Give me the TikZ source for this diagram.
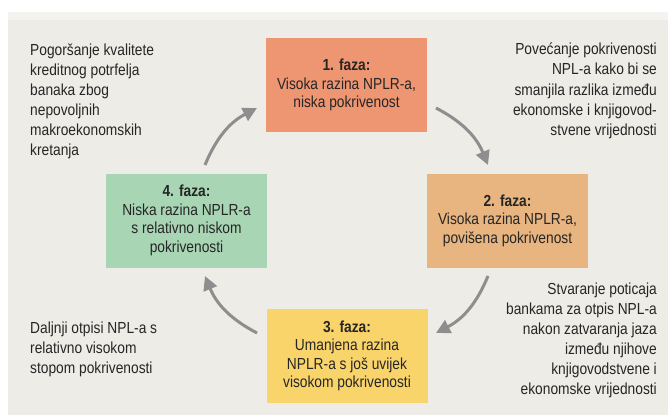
\documentclass[tikz,border=0pt]{standalone}
\usepackage{fontspec}
\setmainfont{Liberation Sans}[FakeStretch=0.86]
\usetikzlibrary{arrows.meta}
\definecolor{panelbg}{HTML}{EEECE6}
\definecolor{striplight}{HTML}{F4F3F0}
\definecolor{cone}{HTML}{EE9572}
\definecolor{ctwo}{HTML}{E8B47F}
\definecolor{cthree}{HTML}{F9D46B}
\definecolor{cfour}{HTML}{A8D5B4}
\definecolor{arrowgray}{HTML}{8E8E8E}
\definecolor{txt}{HTML}{262626}
\begin{document}
\begin{tikzpicture}[x=1pt,y=-1pt,
  phase/.style={minimum width=161pt, minimum height=94pt, align=center, inner sep=0pt,
    font=\fontsize{16}{18.5}\selectfont, text=txt},
  note/.style={inner sep=0pt, font=\fontsize{16}{20}\selectfont, text=txt},
  cyc/.style={draw=arrowgray, line width=3pt, -{Triangle[length=14pt,width=14pt]}, bend left=20}]
\useasboundingbox (0,0) rectangle (668,417);
\fill[white] (0,0) rectangle (668,417);
\fill[striplight] (8,12) rectangle (668,20);
\fill[panelbg] (8,20) rectangle (668,415);

\node[phase, fill=cone] (p1) at (346.5,85) {\textbf{1. faza:}\\Visoka razina NPLR-a,\\niska pokrivenost};
\node[phase, fill=ctwo] (p2) at (507.5,220.5) {\textbf{2. faza:}\\Visoka razina NPLR-a,\\povišena pokrivenost};
\node[phase, fill=cthree] (p3) at (347,356) {\textbf{3. faza:}\\Umanjena razina\\NPLR-a s još uvijek\\visokom pokrivenosti};
\node[phase, fill=cfour] (p4) at (186.5,220.5) {\textbf{4. faza:}\\Niska razina NPLR-a\\s relativno niskom\\pokrivenosti};

\node[note, anchor=base west, align=left] (tl) at (30,155) {Pogoršanje kvalitete\\kreditnog potrfelja\\banaka zbog\\nepovoljnih\\makroekonomskih\\kretanja};
\node[note, anchor=base east, align=right] (tr) at (657,135) {Povećanje pokrivenosti\\NPL-a kako bi se\\smanjila razlika između\\ekonomske i knjigovod-\\stvene vrijednosti};
\node[note, anchor=base west, align=left] (bl) at (30,373) {Daljnji otpisi NPL-a s\\relativno visokom\\stopom pokrivenosti};
\node[note, anchor=base east, align=right] (br) at (657,394) {Stvaranje poticaja\\bankama za otpis NPL-a\\nakon zatvaranja jaza\\između njihove\\knjigovodstvene i\\ekonomske vrijednosti};

\coordinate (a41s) at (205,165);
\coordinate (a41e) at (257,108);
\coordinate (a12s) at (436,108);
\coordinate (a12e) at (488,165);
\coordinate (a23s) at (488,276);
\coordinate (a23e) at (436,333);
\coordinate (a34s) at (257,333);
\coordinate (a34e) at (205,276);

\draw[cyc] (a41s) to (a41e);
\draw[cyc] (a12s) to (a12e);
\draw[cyc] (a23s) to (a23e);
\draw[cyc] (a34s) to (a34e);
\end{tikzpicture}
\end{document}
